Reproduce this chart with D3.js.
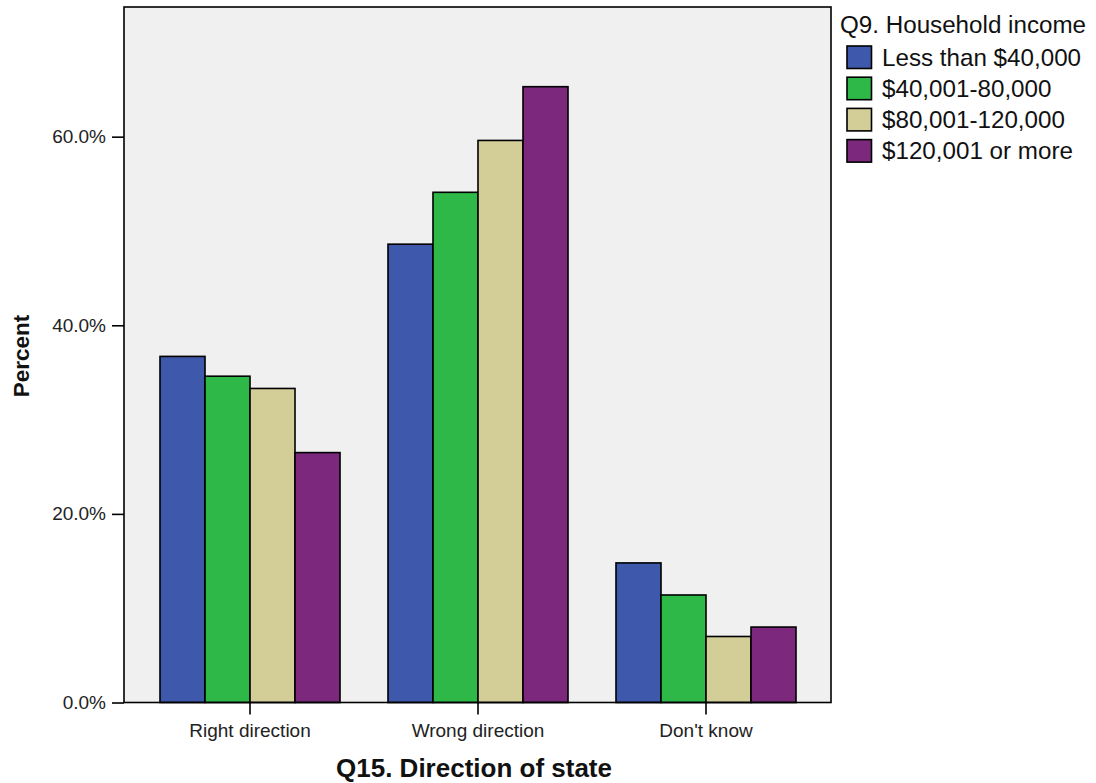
<!DOCTYPE html>
<html><head><meta charset="utf-8">
<script src="https://cdn.jsdelivr.net/npm/d3@7"></script>
<style>body{margin:0;background:#fff;} text{font-family:"Liberation Sans",Arial,sans-serif;}</style>
</head><body>
<svg id="c" width="1096" height="783"></svg>
<script>
const categories = ["Right direction", "Wrong direction", "Don't know"];
const seriesNames = ["Less than $40,000", "$40,001-80,000", "$80,001-120,000", "$120,001 or more"];
const lessThan40k = [36.7, 48.6, 14.8];
const from40to80k = [34.6, 54.1, 11.4];
const from80to120k = [33.3, 59.6, 7.0];
const over120k = [26.5, 65.3, 8.0];
const seriesValues = [lessThan40k, from40to80k, from80to120k, over120k];
const colors = ["#3E58AC", "#2EB848", "#D3CE97", "#7B287D"];
const yTicks = [0, 20, 40, 60];

const svg = d3.select("#c");
const L = 124, R = 831, T = 7, B = 702.5;
const x = d3.scaleBand().domain(categories).range([160, 796]).paddingInner(0.2105).paddingOuter(0);
const xs = d3.scaleBand().domain(d3.range(4)).range([0, x.bandwidth()]);
const y = d3.scaleLinear().domain([0, 73.75]).range([B, T]);

svg.append("rect").attr("x", L).attr("y", T).attr("width", R - L).attr("height", B - T)
  .attr("fill", "#F0F0F0");

const groups = svg.append("g").selectAll("g").data(categories).join("g")
  .attr("transform", d => `translate(${x(d)},0)`);
groups.selectAll("rect").data((c, ci) => seriesValues.map((s, si) => ({si, v: s[ci]}))).join("rect")
  .attr("x", d => xs(d.si)).attr("width", xs.bandwidth())
  .attr("y", d => y(d.v)).attr("height", d => B - y(d.v))
  .attr("fill", d => colors[d.si]).attr("stroke", "#000").attr("stroke-width", 1.6);

svg.append("rect").attr("x", L).attr("y", T).attr("width", R - L).attr("height", B - T)
  .attr("fill", "none").attr("stroke", "#000").attr("stroke-width", 1.6);

const yAxis = svg.append("g").attr("transform", `translate(${L},0)`)
  .call(d3.axisLeft(y).tickValues(yTicks).tickFormat(d => d.toFixed(1) + "%").tickSize(12).tickPadding(6));
yAxis.select(".domain").remove();
yAxis.selectAll("line").attr("stroke", "#000").attr("stroke-width", 1.6);
yAxis.selectAll("text").attr("font-size", 19).attr("fill", "#222").attr("font-family", "Liberation Sans, Arial, sans-serif");

const xAxis = svg.append("g").attr("transform", `translate(0,${B})`)
  .call(d3.axisBottom(x).tickSize(12).tickPadding(9));
xAxis.select(".domain").remove();
xAxis.selectAll("line").attr("stroke", "#000").attr("stroke-width", 1.6);
xAxis.selectAll("text").attr("font-size", 19).attr("fill", "#222").attr("font-family", "Liberation Sans, Arial, sans-serif");

svg.append("text").attr("x", 474).attr("y", 777).attr("text-anchor", "middle")
  .attr("font-size", 26).attr("font-weight", "bold").attr("fill", "#111").text("Q15. Direction of state");
svg.append("text").attr("transform", "translate(29,356) rotate(-90)").attr("text-anchor", "middle")
  .attr("font-size", 22.5).attr("font-weight", "bold").attr("fill", "#111").text("Percent");

const leg = svg.append("g");
leg.append("text").attr("x", 840).attr("y", 33).attr("font-size", 24.2).attr("fill", "#111").text("Q9. Household income");
const items = leg.selectAll("g.item").data(seriesNames).join("g").attr("class", "item")
  .attr("transform", (d, i) => `translate(847,${46 + i * 31.2})`);
items.append("rect").attr("width", 24.5).attr("height", 22.5)
  .attr("fill", (d, i) => colors[i]).attr("stroke", "#000").attr("stroke-width", 1.6);
items.append("text").attr("x", 35).attr("y", 19.5).attr("font-size", 24.2).attr("fill", "#111").text(d => d);
</script>
</body></html>
